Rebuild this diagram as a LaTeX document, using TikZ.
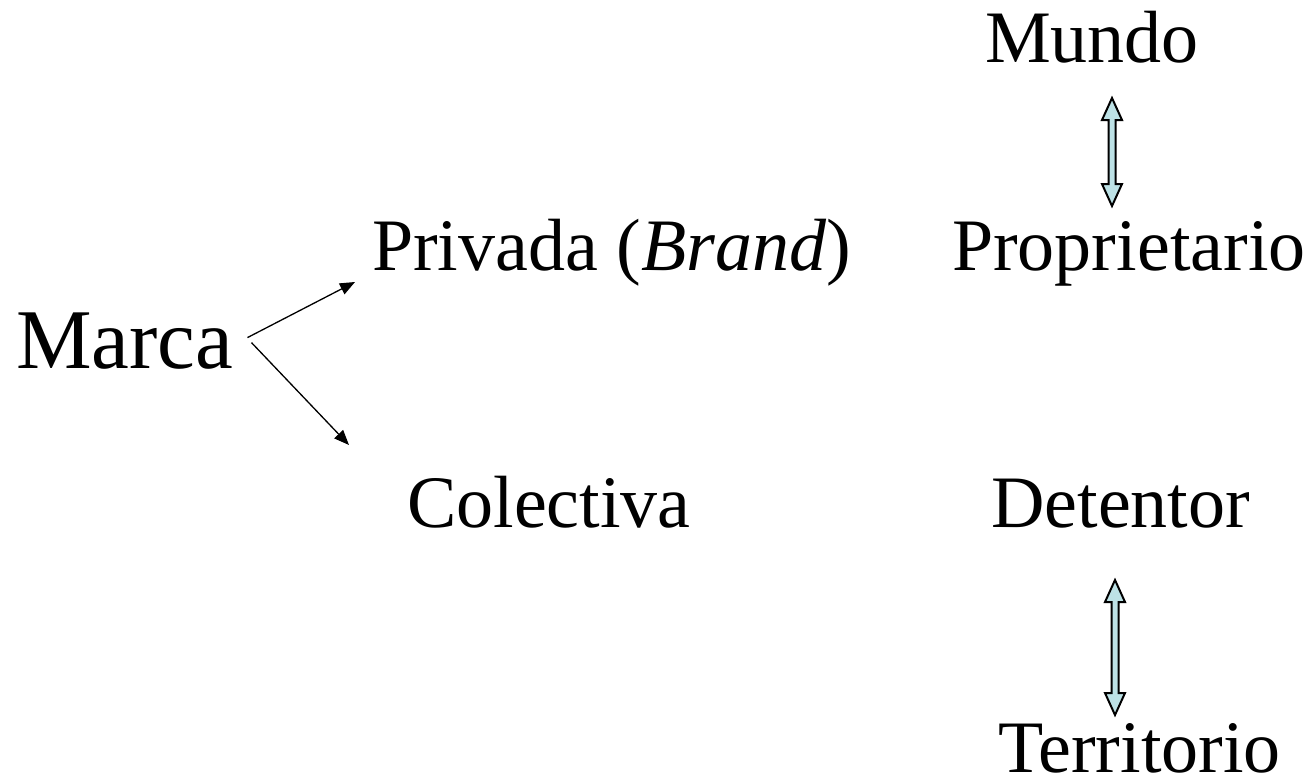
\documentclass[tikz,border=0pt]{standalone}
\usepackage{fontspec}
\setmainfont{Liberation Serif}
\usetikzlibrary{
    arrows.meta,
    positioning,
    calc
}

\definecolor{paleblue}{RGB}{189,226,230}

% hollow two-way arrow between two named points (top, bottom)
\newcommand{\twoway}[2]{%
  \draw[twowayarrow] let \p1=(#1), \p2=(#2) in
    (\x1,\y1) -- (\x1+10pt,\y1-22pt) -- (\x1+3.5pt,\y1-22pt)
    -- (\x1+3.5pt,\y2+22pt) -- (\x1+10pt,\y2+22pt) -- (\x2,\y2)
    -- (\x1-10pt,\y2+22pt) -- (\x1-3.5pt,\y2+22pt)
    -- (\x1-3.5pt,\y1-22pt) -- (\x1-10pt,\y1-22pt) -- cycle;}

\begin{document}
\begin{tikzpicture}[
    x=1pt, y=-1pt,
    word/.style={anchor=base west, inner sep=0pt,
                 font=\fontsize{74}{80}\selectfont},
    bigword/.style={word, font=\fontsize{85}{92}\selectfont},
    branch/.style={-{Triangle[length=15pt,width=12pt]}, line width=1.3pt},
    twowayarrow/.style={draw=black, fill=paleblue, line width=2pt,
                        line join=miter}
]
\useasboundingbox (0,0) rectangle (1315,784);

% =========================
% 1) LEFT: MARCA AND ITS TWO KINDS
% =========================
\node[bigword] (Marca)     at (16,368)  {Marca};
\node[word]    (Privada)   at (372,270) {Privada (\textit{Brand})};
\node[word]    (Colectiva) at (407,527) {Colectiva};

\coordinate (privEnd) at (355,282);
\coordinate (coleEnd) at (349,445);

\draw[branch] ([xshift=14pt,yshift=3pt]Marca.east) -- (privEnd);
\draw[branch] ([xshift=18pt,yshift=-2pt]Marca.east) -- (coleEnd);

% =========================
% 2) RIGHT: TWO PAIRS
% =========================
\node[word] (Mundo)        at (985,63)  {Mundo};
\node[word] (Proprietario) at (952,270) {Proprietario};
\node[word] (Detentor)     at (991,527) {Detentor};
\node[word] (Territorio)   at (998,772) {Territorio};

\coordinate (upTop) at (1112,98);
\coordinate (upBot) at (1112,206);
\coordinate (dnTop) at (1115,580);
\coordinate (dnBot) at (1115,715);

\twoway{upTop}{upBot}
\twoway{dnTop}{dnBot}

\end{tikzpicture}
\end{document}
